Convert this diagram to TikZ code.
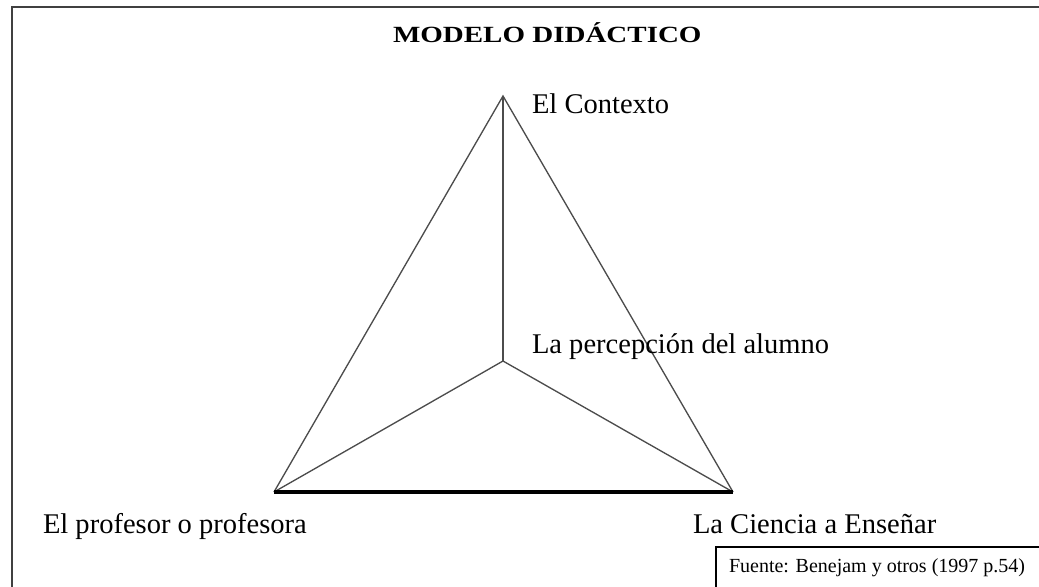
\documentclass[tikz,border=0pt]{standalone}
\usepackage{fontspec}
\setmainfont{Liberation Serif}
\newfontfamily\ancho[FakeStretch=1.25]{Liberation Serif}
\begin{document}
\begin{tikzpicture}[x=0.75pt, y=-0.75pt,
  every node/.style = {inner sep=0pt, outer sep=0pt, anchor=base west},
  etiqueta/.style = {font=\fontsize{21.4}{24}\selectfont},
  lado/.style = {draw=black!70, line width=1pt},
  base/.style = {draw=black, line width=2.4pt}]
  \useasboundingbox (0,0) rectangle (1039,586);
  % marco
  \draw[black!75, line width=1.6pt] (12,7) rectangle (1060,600);
  \node (titulo) at (393,42) {\ancho\fontsize{17.4}{20}\selectfont\bfseries MODELO DIDÁCTICO};
  % vertices
  \coordinate (contexto) at (503,96);
  \coordinate (alumno) at (503,361);
  \coordinate (profesor) at (274,492);
  \coordinate (ciencia) at (733,492);
  \draw[lado] (profesor) -- (contexto) -- (ciencia);
  \draw[lado] (contexto) -- (alumno);
  \draw[lado] (profesor) -- (alumno) -- (ciencia);
  \draw[base] (profesor) -- (ciencia);
  % textos
  \node[etiqueta] (tcontexto) at (532,113) {El Contexto};
  \node[etiqueta] (talumno) at (532,353) {La percepción del alumno};
  \node[etiqueta] (tprofesor) at (43,533) {El profesor o profesora};
  \node[etiqueta] (tciencia) at (693,533) {La Ciencia a Enseñar};
  % fuente
  \draw[black, line width=1.2pt] (716,547) rectangle (1060,600);
  \node (fuente) at (729,572) {\fontsize{15}{18}\selectfont Fuente: Benejam y otros (1997 p.54)};
\end{tikzpicture}
\end{document}
